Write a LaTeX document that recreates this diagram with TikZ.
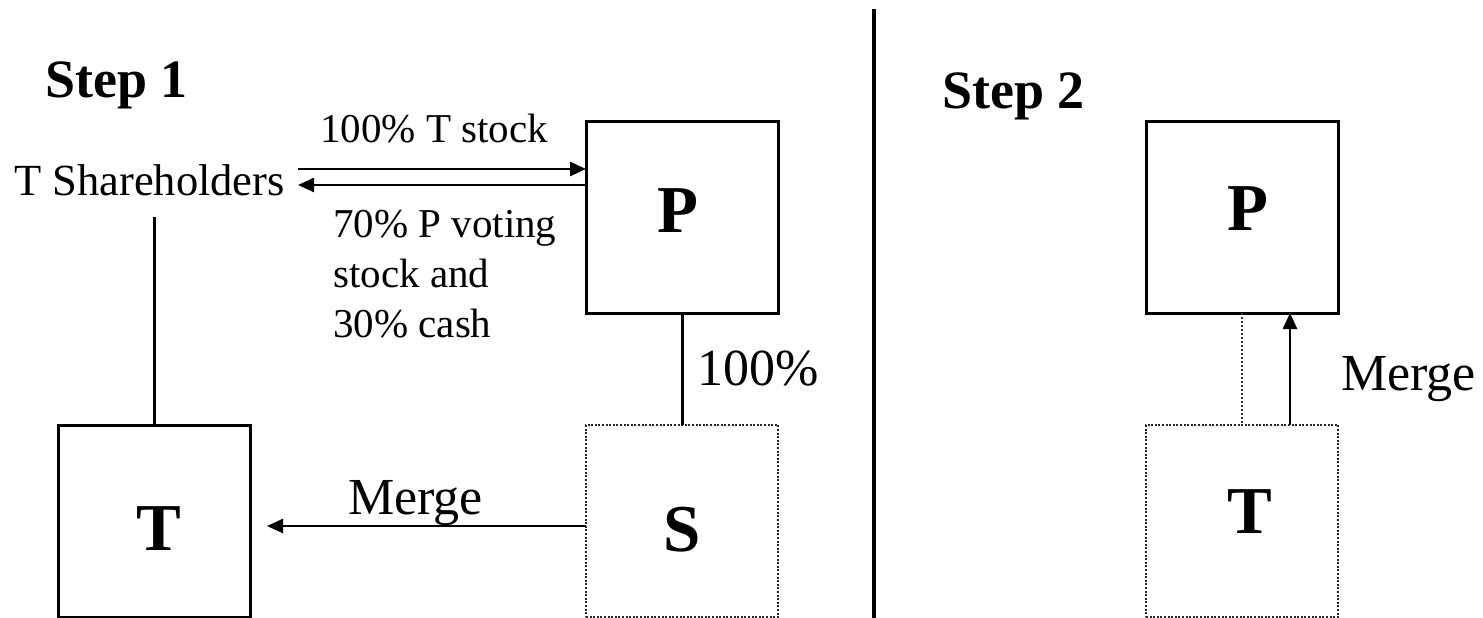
\documentclass[tikz,border=0pt]{standalone}
\usepackage{fontspec}
\setmainfont{Liberation Serif}
\usetikzlibrary{arrows.meta}
\begin{document}
\begin{tikzpicture}[x=1pt,y=-1pt,
  box/.style={draw=black,line width=3pt,minimum width=192pt,minimum height=192pt,inner sep=0pt,outer sep=0pt},
  dbox/.style={box,line width=2.2pt,dash pattern=on 2pt off 1.6pt,draw=black!85},
  letter/.style={anchor=base,inner sep=0pt,font=\fontsize{67}{67}\selectfont\bfseries},
  steplbl/.style={anchor=base west,inner sep=0pt,font=\fontsize{54}{54}\selectfont\bfseries},
  small/.style={anchor=base west,inner sep=0pt,font=\fontsize{41}{50}\selectfont},
  big/.style={anchor=base west,inner sep=0pt,font=\fontsize{52}{52}\selectfont},
  conn/.style={line width=3pt},
  arr/.style={line width=2.5pt,-{Triangle[length=16pt,width=14pt]}}]
\useasboundingbox (0,0) rectangle (1483,618);
% Step 1
\node[steplbl] (st1) at (45,97) {Step 1};
\node[anchor=base west,inner sep=0pt,font=\fontsize{44.5}{44}\selectfont] (sh) at (14,195) {T Shareholders};
\node[box] (P1) at (682,217) {};
\node[letter] (P1l) at (678,232) {P};
\node[dbox] (S) at (682,521) {};
\node[letter] (Sl) at (682,551) {S};
\node[box] (T1) at (154,521) {};
\node[letter] (T1l) at (159,550) {T};
\node[small] (tstock) at (320,142) {100\% T stock};
\node[small,align=left] (pstock) at (333,337) {70\% P voting\\stock and\\30\% cash};
\node[big] (pct) at (697,385) {100\%};
\node[big] (mg1) at (348,514) {Merge};
\coordinate (a1) at (298,169);
\coordinate (a2) at (298,185);
\coordinate (shb) at (154,217);
\coordinate (m1) at (267,526);
\draw[arr] (a1) -- (a1 -| P1.west);
\draw[arr] (a2 -| P1.west) -- (a2);
\draw[conn] (shb) -- (T1.north);
\draw[conn] (P1.south) -- (S.north);
\draw[arr] (m1 -| S.west) -- (m1);
% divider
\coordinate (d1) at (874,9);
\coordinate (d2) at (874,618);
\draw[line width=3.5pt] (d1) -- (d2);
% Step 2
\node[steplbl] (st2) at (942,108) {Step 2};
\node[box] (P2) at (1242,217) {};
\node[letter] (P2l) at (1248,230) {P};
\node[dbox] (T2) at (1242,521) {};
\node[letter] (T2l) at (1250,533) {T};
\node[big] (mg2) at (1341,390) {Merge};
\coordinate (m2) at (1290,0);
\draw[line width=1.6pt,dash pattern=on 2pt off 2pt,draw=black!80] (P2.south) -- (T2.north);
\draw[arr] (T2.north -| m2) -- (P2.south -| m2);
\end{tikzpicture}
\end{document}
